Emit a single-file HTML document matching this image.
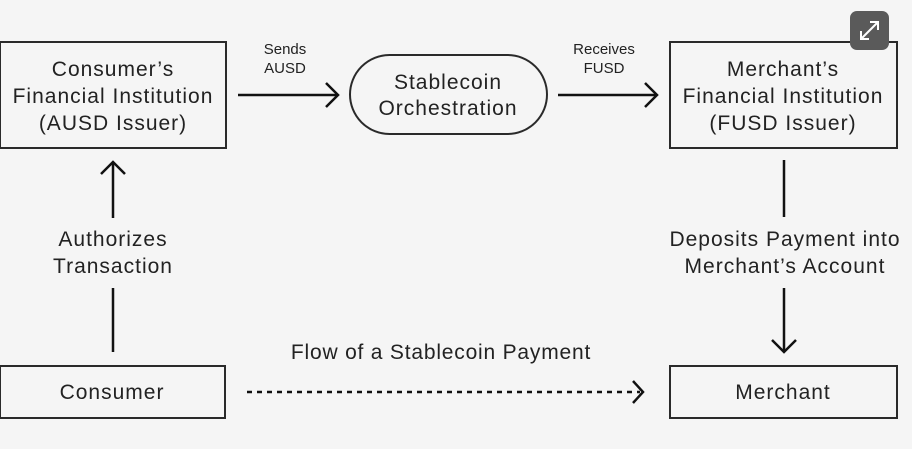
<!DOCTYPE html>
<html><head><meta charset="utf-8"><style>
html,body{margin:0;padding:0;background:#f5f5f5;}
svg{display:block;}
text{font-family:"Liberation Sans",sans-serif;fill:#222;text-anchor:middle;}
</style></head><body>
<svg width="912" height="449" viewBox="0 0 912 449" xmlns="http://www.w3.org/2000/svg">
<rect width="912" height="449" fill="#f5f5f5"/>
<g fill="none" stroke="#2a2a2a" stroke-width="2">
<rect x="0" y="42" width="226" height="106"/>
<rect x="670" y="42" width="227" height="106"/>
<rect x="350" y="55" width="197" height="79" rx="39.5"/>
<rect x="0" y="366" width="225" height="52"/>
<rect x="670" y="366" width="227" height="52"/>
</g>
<g fill="none" stroke="#111" stroke-width="2.5">
<line x1="238" y1="95" x2="338" y2="95"/><polyline points="326,83 338,95 326,107"/>
<line x1="558" y1="95" x2="657" y2="95"/><polyline points="645,83 657,95 645,107"/>
<line x1="113" y1="162" x2="113" y2="218"/><polyline points="101,174 113,162 125,174"/>
<line x1="113" y1="288" x2="113" y2="352"/>
<line x1="784" y1="160" x2="784" y2="217"/>
<line x1="784" y1="288" x2="784" y2="352"/><polyline points="772,340 784,352 796,340"/>
<line x1="247" y1="392" x2="640" y2="392" stroke-dasharray="5,5" stroke-width="2.5"/>
<polyline points="633,381 643,392 633,403" stroke-width="2.5"/>
</g>
<g font-size="21" letter-spacing="1">
<text x="113" y="76">Consumer’s</text>
<text x="113" y="103">Financial Institution</text>
<text x="113" y="130">(AUSD Issuer)</text>
<text x="783" y="76">Merchant’s</text>
<text x="783" y="103">Financial Institution</text>
<text x="783" y="130">(FUSD Issuer)</text>
<text x="448" y="89">Stablecoin</text>
<text x="448" y="115">Orchestration</text>
<text x="113" y="246">Authorizes</text>
<text x="113" y="273">Transaction</text>
<text x="785" y="246">Deposits Payment into</text>
<text x="785" y="273">Merchant’s Account</text>
<text x="441" y="359" letter-spacing="0.8">Flow of a Stablecoin Payment</text>
<text x="112" y="399">Consumer</text>
<text x="783" y="399">Merchant</text>
</g>
<g font-size="15">
<text x="285" y="54">Sends</text>
<text x="285" y="73">AUSD</text>
<text x="604" y="54">Receives</text>
<text x="604" y="73">FUSD</text>
</g>
<rect x="850" y="11" width="39" height="39" rx="7" fill="#5a5a5a"/>
<g stroke="#fff" stroke-width="2" fill="none">
<line x1="861" y1="39" x2="878" y2="22"/>
<polyline points="870,22 878,22 878,30"/>
<polyline points="861,31 861,39 869,39"/>
</g>
</svg>
</body></html>
